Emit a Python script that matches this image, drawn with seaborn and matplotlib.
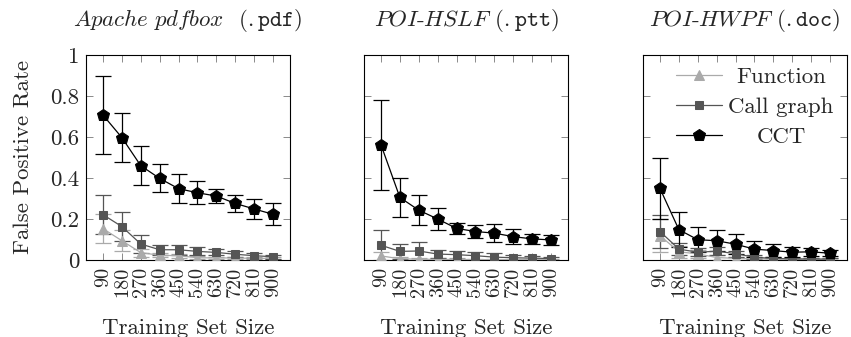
import numpy as np
import pandas as pd
import matplotlib
matplotlib.use("Agg")
import matplotlib.pyplot as plt
from matplotlib.ticker import FuncFormatter
import seaborn as sns

sizes = [90, 180, 270, 360, 450, 540, 630, 720, 810, 900]
methods = ["Function", "Call graph", "CCT"]
titles = [r"$\mathit{Apache\ pdfbox}$  ($\mathtt{.pdf}$)",
          r"$\mathit{POI}$-$\mathit{HSLF}$ ($\mathtt{.ptt}$)",
          r"$\mathit{POI}$-$\mathit{HWPF}$ ($\mathtt{.doc}$)"]

# mean false positive rate per panel / method
pdf_func = [0.153, 0.094, 0.036, 0.023, 0.021, 0.011, 0.010, 0.010, 0.008, 0.008]
pdf_cg = [0.221, 0.163, 0.078, 0.050, 0.050, 0.042, 0.037, 0.028, 0.021, 0.016]
pdf_cct = [0.707, 0.597, 0.460, 0.398, 0.348, 0.328, 0.312, 0.276, 0.249, 0.223]
ptt_func = [0.020, 0.006, 0.004, 0.003, 0.003, 0.002, 0.002, 0.002, 0.002, 0.002]
ptt_cg = [0.072, 0.042, 0.044, 0.029, 0.026, 0.021, 0.014, 0.011, 0.009, 0.007]
ptt_cct = [0.562, 0.305, 0.243, 0.200, 0.154, 0.139, 0.131, 0.114, 0.103, 0.098]
doc_func = [0.119, 0.040, 0.030, 0.012, 0.008, 0.005, 0.005, 0.004, 0.004, 0.004]
doc_cg = [0.139, 0.053, 0.038, 0.043, 0.031, 0.013, 0.008, 0.005, 0.005, 0.004]
doc_cct = [0.349, 0.148, 0.099, 0.094, 0.077, 0.053, 0.046, 0.038, 0.040, 0.033]

# half-width of error bars
pdf_func_err = [0.070, 0.050, 0.020, 0.010, 0.010, 0.008, 0.006, 0.006, 0.005, 0.005]
pdf_cg_err = [0.095, 0.070, 0.045, 0.025, 0.025, 0.020, 0.015, 0.015, 0.012, 0.010]
pdf_cct_err = [0.190, 0.120, 0.096, 0.068, 0.070, 0.056, 0.033, 0.040, 0.050, 0.053]
ptt_func_err = [0.020, 0.008, 0.006, 0.005, 0.005, 0.004, 0.004, 0.004, 0.004, 0.004]
ptt_cg_err = [0.075, 0.036, 0.044, 0.020, 0.020, 0.020, 0.020, 0.015, 0.010, 0.010]
ptt_cct_err = [0.220, 0.093, 0.072, 0.056, 0.027, 0.030, 0.044, 0.035, 0.026, 0.026]
doc_func_err = [0.080, 0.030, 0.020, 0.010, 0.008, 0.005, 0.005, 0.004, 0.004, 0.004]
doc_cg_err = [0.080, 0.030, 0.020, 0.020, 0.015, 0.010, 0.008, 0.005, 0.005, 0.004]
doc_cct_err = [0.150, 0.086, 0.060, 0.050, 0.050, 0.040, 0.033, 0.025, 0.020, 0.015]

panels = [
    (pdf_func, pdf_cg, pdf_cct, pdf_func_err, pdf_cg_err, pdf_cct_err),
    (ptt_func, ptt_cg, ptt_cct, ptt_func_err, ptt_cg_err, ptt_cct_err),
    (doc_func, doc_cg, doc_cct, doc_func_err, doc_cg_err, doc_cct_err),
]

colors = {"Function": "#aaaaaa", "Call graph": "#555555", "CCT": "#000000"}
markers = {"Function": "^", "Call graph": "s", "CCT": "p"}
msizes = {"Function": 7, "Call graph": 6, "CCT": 9}

sns.set_theme(style="ticks")
plt.rcParams["font.family"] = ["cmr10", "DejaVu Serif"]
plt.rcParams["mathtext.fontset"] = "cm"
plt.rcParams["axes.formatter.use_mathtext"] = True

fig = plt.figure(figsize=(8.51, 3.37), dpi=100)
lefts = [86, 364, 643]
axes = [fig.add_axes([l / 851, 1 - 260 / 337, 204 / 851, 205 / 337]) for l in lefts]

for i, (ax, vals) in enumerate(zip(axes, panels)):
    means = vals[:3]
    errs = vals[3:]
    for m, y, e in zip(methods, means, errs):
        df = pd.DataFrame({"size": sizes, "fpr": y})
        ax.errorbar(sizes, y, yerr=e, fmt="none", ecolor=colors[m],
                    elinewidth=0.9, capsize=6, capthick=0.9, zorder=2)
        sns.lineplot(data=df, x="size", y="fpr", ax=ax, color=colors[m],
                     marker=markers[m], markersize=msizes[m], markeredgecolor=colors[m],
                     linewidth=0.9, label=m, legend=False, zorder=3)
    ax.set_xlim(9, 981)
    ax.set_ylim(0, 1)
    ax.set_xticks(sizes)
    ax.set_xticklabels([str(s) for s in sizes], rotation=90)
    ax.set_yticks([0, 0.2, 0.4, 0.6, 0.8, 1])
    ax.yaxis.set_major_formatter(FuncFormatter(lambda v, p: "%g" % v))
    ax.tick_params(direction="in", top=True, right=True, length=5, width=0.6,
                   color="#777777", labelsize=16.5, pad=5)
    ax.tick_params(axis="x", labelsize=14.5, pad=5)
    for sp in ax.spines.values():
        sp.set_linewidth(0.8)
        sp.set_color("black")
    ax.set_xlabel("Training Set Size", fontsize=16.5, labelpad=15)
    ax.set_ylabel("")
    ax.set_title(titles[i], fontsize=16.5, pad=21)
    if i > 0:
        ax.set_yticklabels([])

axes[0].set_ylabel("False Positive Rate", fontsize=16.5, labelpad=12)
leg = axes[2].legend(loc="upper right", frameon=False, fontsize=16.5, handlelength=2.0,
                     borderaxespad=0.0, labelspacing=0.43, handletextpad=0.3,
                     bbox_to_anchor=(0.98, 0.985))

# centre the legend entries like pgfplots does
fig.canvas.draw()
renderer = fig.canvas.get_renderer()
widths = [t.get_window_extent(renderer).width for t in leg.get_texts()]
wmax = max(widths)
for t, w in zip(leg.get_texts(), widths):
    t.set_position(((wmax - w) / 2, 0))

fig.savefig("out.png", dpi=100)
